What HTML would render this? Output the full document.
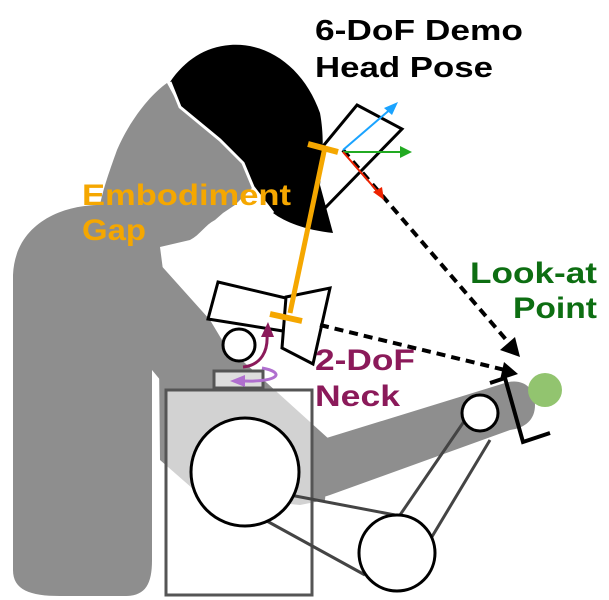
<!DOCTYPE html>
<html><head><style>
html,body{margin:0;padding:0;background:#fff;}
svg{display:block;}
text{font-family:"Liberation Sans",sans-serif;font-weight:bold;}
</style></head><body>
<svg width="609" height="600" viewBox="0 0 609 600" xmlns="http://www.w3.org/2000/svg">
<!-- person body -->
<path d="M167,83 C150,95 130,120 117,150 C108,175 103,190 100,205 C60,205 15,225 13,275 L13,570 C13,590 30,596 60,596 L125,596 C145,596 152,585 152,560 L152,370 L210,440 C260,470 290,480 320,440 L505,383 C520,378 535,385 535,405 C535,420 525,428 510,430 L330,495 C300,505 250,508 200,495 L165,460 L163,270 L160,247 L190,240 C200,235 205,225 215,220 L223,213 L235,205 L250,190 L253,187 L243,163 L220,140 L180,107 Z" fill="#8e8e8e"/>
<path d="M158,262 L210,320 L225,345 L330,440 L325,500 L300,505 L200,495 L160,460 Z" fill="#8e8e8e"/>
<!-- hat -->
<path d="M170,82 C185,60 205,47 230,45 C270,42 305,70 320,113 C325,140 322,165 320,185 L333,233 C305,230 285,222 273,213 L253,187 L243,163 L220,140 L180,107 Z" fill="#000"/>
<path d="M170,82 L180,107 L220,140 L243,163 L253,187 L273,213" fill="none" stroke="#fff" stroke-width="3" stroke-linejoin="round"/>
<!-- robot box (translucent) -->
<rect x="166" y="390" width="146" height="205" fill="#fff" fill-opacity="0.6" stroke="#555" stroke-width="3"/>
<rect x="214" y="371" width="49" height="17" fill="#ddd" stroke="#555" stroke-width="3"/>
<!-- links -->
<line x1="290" y1="495" x2="395" y2="515" stroke="#444" stroke-width="3"/>
<line x1="265" y1="520" x2="365" y2="575" stroke="#444" stroke-width="3"/>
<line x1="400" y1="515" x2="465" y2="420" stroke="#444" stroke-width="3"/>
<line x1="430" y1="540" x2="490" y2="440" stroke="#444" stroke-width="3"/>
<circle cx="245" cy="472" r="54" fill="#fff" stroke="#000" stroke-width="3"/>
<circle cx="397" cy="553" r="38" fill="#fff" stroke="#000" stroke-width="3"/>
<circle cx="480" cy="413" r="18" fill="#fff" stroke="#000" stroke-width="3"/>
<circle cx="239" cy="345" r="16" fill="#fff" stroke="#000" stroke-width="3"/>
<!-- camera -->
<polygon points="218,282 290,299 283,331 208,319" fill="#fff" stroke="#000" stroke-width="3"/>
<polygon points="286,297 330,288 313,364 282,348" fill="#fff" stroke="#000" stroke-width="3"/>
<!-- gripper -->
<polyline points="490,383 505,378 523,442 550,433" fill="none" stroke="#000" stroke-width="4"/>
<circle cx="545" cy="390" r="17" fill="#92c46f"/>
<!-- head pose rect -->
<polygon points="357,105 402,129 324,209 305,168" fill="none" stroke="#000" stroke-width="3"/>
<!-- dashed lines -->
<line x1="343" y1="150" x2="515" y2="350" stroke="#000" stroke-width="4" stroke-dasharray="9,6"/>
<polygon points="520,357 500,350 515,337" fill="#000"/>
<line x1="320" y1="325" x2="505" y2="370" stroke="#000" stroke-width="4" stroke-dasharray="9,6"/>
<polygon points="518,374 500,380 504,362" fill="#000"/>
<!-- axes -->
<line x1="343" y1="150" x2="393" y2="107" stroke="#1aa3ff" stroke-width="2"/>
<polygon points="398,102 384,108 392,115" fill="#1aa3ff"/>
<line x1="343" y1="152" x2="402" y2="152" stroke="#22aa22" stroke-width="2"/>
<polygon points="412,152 400,146 400,158" fill="#22aa22"/>
<line x1="343" y1="152" x2="378" y2="192" stroke="#ee2200" stroke-width="2"/>
<polygon points="384,200 373,192 382,187" fill="#ee2200"/>
<!-- embodiment gap -->
<line x1="325" y1="147" x2="290" y2="313" stroke="#f5a700" stroke-width="5"/>
<line x1="308" y1="144" x2="338" y2="152" stroke="#f5a700" stroke-width="6"/>
<line x1="270" y1="314" x2="302" y2="321" stroke="#f5a700" stroke-width="6"/>
<!-- neck arrows -->
<path d="M243,367 C262,365 268,350 267,335" fill="none" stroke="#8b1a5a" stroke-width="3"/>
<polygon points="268,322 261,337 274,337" fill="#8b1a5a"/>
<path d="M262,368 C285,372 280,382 245,381" fill="none" stroke="#b06fcf" stroke-width="3"/>
<polygon points="230,381 245,375 245,387" fill="#b06fcf"/>
<!-- text -->
<text x="315" y="40" font-size="29" fill="#000" textLength="208" lengthAdjust="spacingAndGlyphs">6-DoF Demo</text>
<text x="315" y="77" font-size="29" fill="#000" textLength="178" lengthAdjust="spacingAndGlyphs">Head Pose</text>
<text x="82" y="205" font-size="30" fill="#f5a700" textLength="209" lengthAdjust="spacingAndGlyphs">Embodiment</text>
<text x="82" y="240" font-size="30" fill="#f5a700" textLength="64" lengthAdjust="spacingAndGlyphs">Gap</text>
<text x="470" y="283" font-size="30" fill="#0d6e12" textLength="127" lengthAdjust="spacingAndGlyphs">Look-at</text>
<text x="513" y="318" font-size="30" fill="#0d6e12" textLength="84" lengthAdjust="spacingAndGlyphs">Point</text>
<text x="315" y="370" font-size="30" fill="#8b1a5a" textLength="100" lengthAdjust="spacingAndGlyphs">2-DoF</text>
<text x="315" y="406" font-size="30" fill="#8b1a5a" textLength="85" lengthAdjust="spacingAndGlyphs">Neck</text>
</svg>
</body></html>
